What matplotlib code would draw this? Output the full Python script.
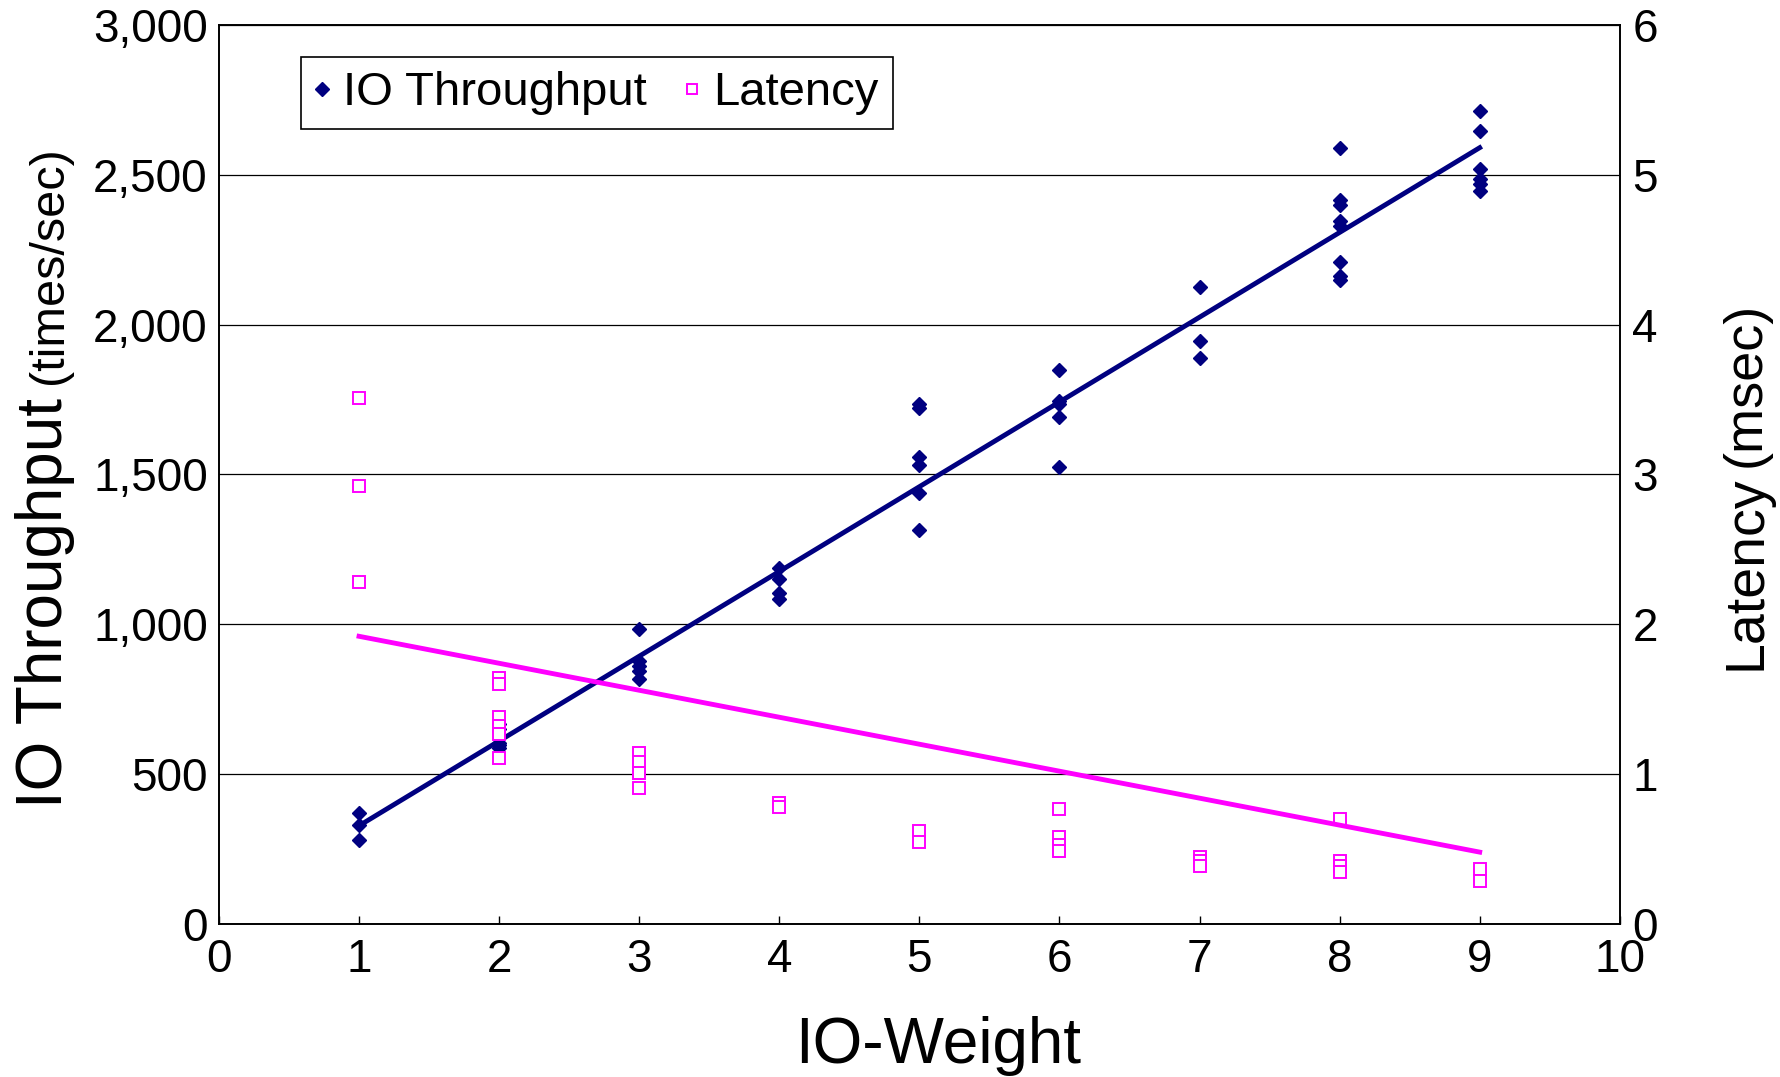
import matplotlib
matplotlib.use('Agg')
import matplotlib.pyplot as plt
from matplotlib.ticker import StrMethodFormatter

plt.rcParams['font.family'] = ['Liberation Sans', 'DejaVu Sans']

# IO-weight levels and the measured runs at each level
weights = [1, 2, 3, 4, 5, 6, 7, 8, 9]
throughput = [
    [370, 330, 282],
    [588, 596, 604, 650, 668],
    [983, 876, 860, 845, 818],
    [1188, 1150, 1105, 1085],
    [1735, 1720, 1557, 1532, 1437, 1313],
    [1850, 1746, 1735, 1690, 1525],
    [2124, 1945, 1888],
    [2588, 2415, 2400, 2345, 2330, 2208, 2162, 2149],
    [2712, 2646, 2519, 2485, 2470, 2444],
]
latency = [
    [3.51, 2.92, 2.28],
    [1.64, 1.60, 1.38, 1.32, 1.27, 1.11],
    [1.14, 1.08, 1.01, 0.91],
    [0.81, 0.78],
    [0.62, 0.55],
    [0.77, 0.58, 0.53, 0.49],
    [0.45, 0.42, 0.39],
    [0.70, 0.42, 0.39, 0.35],
    [0.37, 0.29],
]
# linear trend lines (end points)
trend_x = [1, 9]
thr_trend = [328, 2590]
lat_trend = [1.92, 0.48]

thr_x = [w for w, vals in zip(weights, throughput) for v in vals]
thr_y = [v for vals in throughput for v in vals]
lat_x = [w for w, vals in zip(weights, latency) for v in vals]
lat_y = [v for vals in latency for v in vals]

navy = '#000080'
pink = '#FF00FF'

fig = plt.figure(figsize=(17.8, 10.77), dpi=100)
ax = fig.add_axes([0.123, 0.142, 0.787, 0.835])
ax2 = ax.twinx()

h1, = ax.plot(thr_x, thr_y, ls='none', marker='D', ms=7.5, color=navy,
              label='IO Throughput')
ax.plot(trend_x, thr_trend, color=navy, lw=3.5)

h2, = ax2.plot(lat_x, lat_y, ls='none', marker='s', ms=8, mfc='white',
               mec=pink, mew=1.4, label='Latency')
ax2.plot(trend_x, lat_trend, color=pink, lw=3.5)

ax.set_xlim(0, 10)
ax.set_ylim(0, 3000)
ax2.set_ylim(0, 6)
ax.set_xticks(range(11))
ax.set_yticks(range(0, 3001, 500))
ax2.set_yticks(range(7))
ax.yaxis.set_major_formatter(StrMethodFormatter('{x:,.0f}'))

ax.grid(axis='y', color='black', lw=0.9)
ax.set_axisbelow(True)
ax.tick_params(axis='x', direction='in', length=6, width=1, labelsize=33, pad=10)
ax.tick_params(axis='y', length=0, labelsize=33, pad=8)
ax2.tick_params(axis='y', length=0, labelsize=33, pad=9)
for a in (ax, ax2):
    for s in a.spines.values():
        s.set_linewidth(1.2)
        s.set_color('black')

leg = ax2.legend(handles=[h1, h2], ncol=2, loc='upper left',
                 bbox_to_anchor=(0.0585, 0.964), borderaxespad=0,
                 fontsize=34, frameon=True, fancybox=False, edgecolor='black',
                 framealpha=1, handlelength=0.3, handletextpad=0.3,
                 columnspacing=0.8, borderpad=0.3, markerscale=0.9)
leg.get_frame().set_linewidth(1.2)

# axis titles
fig.text(0.527, 0.013, 'IO-Weight', fontsize=46, ha='center', va='baseline')
fig.text(0.0348, 0.2498, 'IO Throughput', fontsize=46, rotation=90,
         rotation_mode='anchor', ha='left', va='baseline')
fig.text(0.0348, 0.6435, '(times/sec)', fontsize=35, rotation=90,
         rotation_mode='anchor', ha='left', va='baseline')
fig.text(0.9888, 0.378, 'Latency', fontsize=40, rotation=90,
         rotation_mode='anchor', ha='left', va='baseline')
fig.text(0.9888, 0.566, '(msec)', fontsize=39, rotation=90,
         rotation_mode='anchor', ha='left', va='baseline')

fig.savefig('out.png', dpi=100)
